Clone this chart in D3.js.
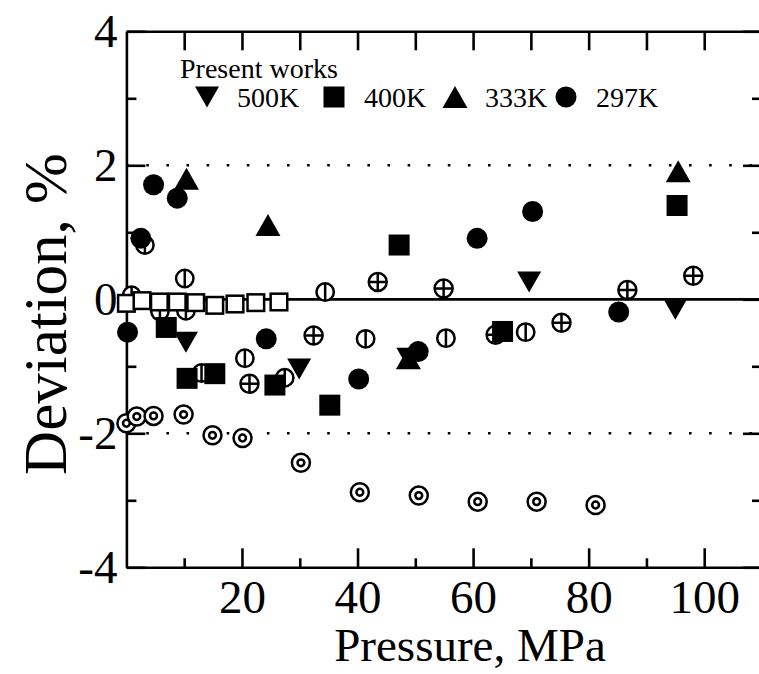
<!DOCTYPE html>
<html>
<head>
<meta charset="utf-8">
<script src="https://cdn.jsdelivr.net/npm/d3@7"></script>
<style>
  body { margin: 0; background: #fff; }
  svg { display: block; }
</style>
</head>
<body>
<svg width="759" height="674"></svg>
<script>
"use strict";

// present works, [pressure MPa, deviation %]
const pts500K = [[10.3,-0.64],[29.9,-1.04],[48.8,-0.88],[69.7,0.26],[95.0,-0.15]];
const pts400K = [[6.9,-0.42],[10.5,-1.18],[15.3,-1.11],[25.7,-1.28],[35.2,-1.58],[47.2,0.81],[65.1,-0.48],[95.3,1.40]];
const pts333K = [[10.4,1.80],[24.5,1.11],[48.8,-0.88],[95.5,1.91]];
const pts297K = [[0.2,-0.49],[2.5,0.91],[4.7,1.71],[8.8,1.51],[24.2,-0.59],[40.2,-1.19],[50.5,-0.78],[60.7,0.91],[70.3,1.31],[85.2,-0.19]];

// literature data (open symbols)
const ptsOpenSquare = [[0,-0.06],[2.7,-0.02],[5.7,-0.04],[8.8,-0.04],[12.0,-0.05],[15.3,-0.09],[18.8,-0.07],[22.4,-0.05],[26.4,-0.04]];
const ptsBarCircle = [[0.9,0.06],[3.2,0.81],[5.8,-0.18],[10.1,0.31],[10.3,-0.17],[13.0,-1.10],[20.5,-0.88],[27.4,-1.17],[34.4,0.11],[41.4,-0.59],[55.3,-0.58],[69.1,-0.49]];
const ptsCrossCircle = [[21.3,-1.26],[32.4,-0.54],[43.5,0.26],[54.9,0.16],[63.9,-0.53],[75.3,-0.35],[86.7,0.14],[98.1,0.35]];
const ptsDoubleCircle = [[0,-1.85],[1.8,-1.75],[4.7,-1.74],[9.9,-1.72],[14.9,-2.03],[20.1,-2.07],[30.2,-2.44],[40.4,-2.88],[50.6,-2.93],[60.8,-3.02],[71.0,-3.02],[81.2,-3.07]];

const xTicks = [10,20,30,40,50,60,70,80,90,100];
const yTicks = [-4,-3,-2,-1,0,1,2,3,4];
const legendLabels = ["500K","400K","333K","297K"];

const font = '"Liberation Serif", "Times New Roman", serif';
const svg = d3.select("svg");

const x = d3.scaleLinear([0, 110], [126.4, 762]);
const y = d3.scaleLinear([-4, 4], [567.3, 31.3]);

// dotted reference lines at +-2 and solid zero line
svg.append("g").selectAll("line")
  .data([2, -2])
  .join("line")
    .attr("x1", x(0)).attr("x2", x(110))
    .attr("y1", d => y(d)).attr("y2", d => y(d))
    .attr("stroke", "#000").attr("stroke-width", 2.6)
    .attr("stroke-dasharray", "2.6,17.5").attr("stroke-dashoffset", 0.2);

svg.append("line")
  .attr("x1", x(0)).attr("x2", x(110))
  .attr("y1", y(0)).attr("y2", y(0))
  .attr("stroke", "#000").attr("stroke-width", 2.8);

// axes
function styleAxis(g) {
  g.select(".domain").attr("stroke-width", 2.6);
  g.selectAll(".tick line").attr("stroke-width", 2.6);
  g.selectAll(".tick text").attr("fill", "#000");
  g.attr("font-family", font).attr("font-size", 47);
}

svg.append("g")
  .attr("transform", `translate(0,${y(-4)})`)
  .call(d3.axisBottom(x).tickValues(xTicks).tickSize(-19).tickSizeOuter(0).tickPadding(12)
    .tickFormat(d => d % 20 === 0 ? d : ""))
  .call(styleAxis)
  .call(g => g.selectAll(".tick line").filter(d => d % 20 !== 0).attr("y2", -9));

svg.append("g")
  .attr("transform", `translate(0,${y(4)})`)
  .call(d3.axisTop(x).tickValues(xTicks).tickSize(-19).tickSizeOuter(0).tickFormat(""))
  .call(styleAxis);

svg.append("g")
  .attr("transform", `translate(${x(0)},0)`)
  .call(d3.axisLeft(y).tickValues(yTicks).tickSize(-19).tickSizeOuter(0).tickPadding(9)
    .tickFormat(d => d % 2 === 0 ? String(d) : ""))
  .call(styleAxis)
  .call(g => g.selectAll(".tick line").filter(d => d % 2 !== 0).attr("x2", 10));

svg.append("g")
  .attr("transform", `translate(${x(110)},0)`)
  .call(d3.axisRight(y).tickValues(yTicks).tickSize(-19).tickSizeOuter(0).tickFormat(""))
  .call(styleAxis)
  .call(g => g.selectAll(".tick line").filter(d => d % 2 !== 0).attr("x2", -10));

// axis titles
svg.append("text")
  .attr("x", 470).attr("y", 661)
  .attr("text-anchor", "middle")
  .attr("font-family", font).attr("font-size", 47)
  .text("Pressure, MPa");

svg.append("text")
  .attr("transform", "translate(66,314) rotate(-90)")
  .attr("text-anchor", "middle")
  .attr("font-family", font).attr("font-size", 61)
  .text("Deviation, %");

// marker shapes
const triDown = "M-12,-10.5L12,-10.5L0,10.5Z";
const triUp = "M0,-11L12.5,11L-12.5,11Z";
const sqr = "M-10.5,-10.5h21v21h-21Z";
const dot = d3.symbol(d3.symbolCircle, Math.PI * 10.5 * 10.5)();

function openMarkers(data, draw) {
  svg.append("g").selectAll("g")
    .data(data)
    .join("g")
      .attr("transform", d => `translate(${x(d[0])},${y(d[1])})`)
      .attr("fill", "#fff").attr("stroke", "#000").attr("stroke-width", 2.5)
      .each(function() { draw(d3.select(this)); });
}

openMarkers(ptsDoubleCircle, g => {
  g.append("circle").attr("r", 9);
  g.append("circle").attr("r", 3.4);
});
openMarkers(ptsCrossCircle, g => {
  g.append("circle").attr("r", 9);
  g.append("path").attr("d", "M-9,0H9M0,-9V9");
});
openMarkers(ptsBarCircle, g => {
  g.append("circle").attr("r", 8.7);
  g.append("path").attr("d", "M0,-8.7V8.7");
});
openMarkers(ptsOpenSquare, g => {
  g.append("rect").attr("x", -8.3).attr("y", -8.3).attr("width", 16.6).attr("height", 16.6);
});

function filledMarkers(data, shape) {
  svg.append("g").selectAll("path")
    .data(data)
    .join("path")
      .attr("d", shape)
      .attr("transform", d => `translate(${x(d[0])},${y(d[1])})`)
      .attr("fill", "#000");
}

filledMarkers(pts297K, dot);
filledMarkers(pts400K, sqr);
filledMarkers(pts500K, triDown);
filledMarkers(pts333K, triUp);

// legend
svg.append("text")
  .attr("x", 180).attr("y", 78)
  .attr("font-family", font).attr("font-size", 28)
  .text("Present works");

const legendShapes = [triDown, sqr, triUp, dot];
const legendX = [207, 334, 455, 566];
const legend = svg.append("g").selectAll("g")
  .data(legendLabels)
  .join("g")
    .attr("transform", (d, i) => `translate(${legendX[i]},97)`);
legend.append("path")
  .attr("d", (d, i) => legendShapes[i])
  .attr("fill", "#000");
legend.append("text")
  .attr("x", 30).attr("y", 10)
  .attr("font-family", font).attr("font-size", 28)
  .text(d => d);
</script>
</body>
</html>
